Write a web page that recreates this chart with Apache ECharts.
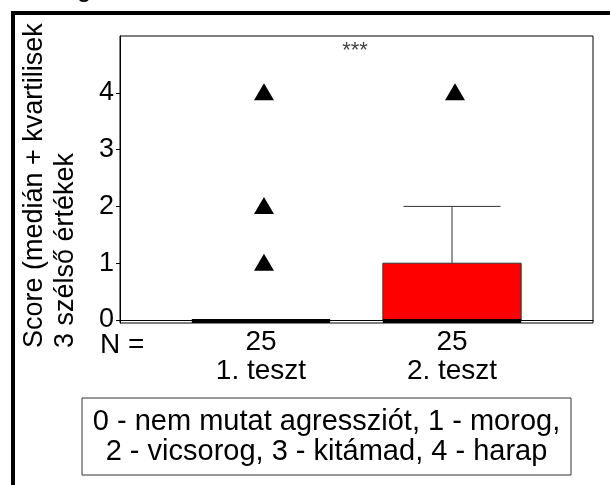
<!DOCTYPE html>
<html><head><meta charset="utf-8">
<script src="https://cdn.jsdelivr.net/npm/echarts@6/dist/echarts.min.js"></script>
<style>html,body{margin:0;padding:0;background:#fff}#c{width:610px;height:485px}</style>
</head><body><div id="c"></div>
<script>
// ---- data ----
const categories = ['1. teszt', '2. teszt'];
const nCounts = [25, 25];
const positions = [1, 2];
const whiskerLow = [0, 0];
const q1 = [0, 0];
const median = [0, 0];
const q3 = [0, 1];
const whiskerHigh = [0, 2];
const outlierGroup = [1, 1, 1, 2];
const outlierValue = [1, 2, 4, 4];
const yTicks = [0, 1, 2, 3, 4];
const yTitle = 'Score (medián + kvartilisek\n3 szélső értékek';
const legendText = '0 - nem mutat agressziót, 1 - morog,\n2 - vicsorog, 3 - kitámad, 4 - harap';
const sigText = '***';

const FONT = '"Liberation Sans", Arial, sans-serif';
const boxData = positions.map((p, i) => [p, whiskerLow[i], q1[i], median[i], q3[i], whiskerHigh[i]]);
const outlierData = outlierGroup.map((g, i) => [g, outlierValue[i]]);

const chart = echarts.init(document.getElementById('c'), null, {renderer: 'canvas'});
chart.setOption({
  animation: false,
  backgroundColor: '#fff',
  textStyle: {fontFamily: FONT},
  grid: {left: 120, top: 36, right: 17, bottom: 162, show: true, borderColor: '#000', borderWidth: 1, backgroundColor: 'transparent'},
  xAxis: {
    type: 'value', min: 0.262, max: 2.738,
    axisLine: {show: true, lineStyle: {color: '#000', width: 1}},
    axisTick: {show: true, length: 3, customValues: positions, lineStyle: {color: '#000', width: 2}},
    axisLabel: {
      customValues: positions, margin: 5, fontSize: 28, lineHeight: 29, color: '#000', fontFamily: FONT,
      formatter: v => { const i = positions.indexOf(Math.round(v)); return nCounts[i] + '\n' + categories[i]; }
    },
    splitLine: {show: false}
  },
  yAxis: {
    type: 'value', min: -0.053, max: 5.0,
    axisLine: {show: true, lineStyle: {color: '#000', width: 1}},
    axisTick: {show: true, length: 4, customValues: yTicks, lineStyle: {color: '#000', width: 1}},
    axisLabel: {customValues: yTicks, margin: 6, fontSize: 27, color: '#000', fontFamily: FONT},
    splitLine: {show: false}
  },
  series: [
    {
      type: 'custom',
      data: boxData,
      encode: {x: 0, y: [1, 2, 3, 4, 5]},
      clip: false,
      z: 2,
      renderItem: function (params, api) {
        const x = api.value(0);
        const lo = api.value(2), med = api.value(3), hi = api.value(4), wh = api.value(5);
        const halfBox = 0.362, halfCap = 0.254;
        const pL = api.coord([x - halfBox, hi]);
        const pR = api.coord([x + halfBox, lo]);
        const c = api.coord([x, med]);
        const children = [];
        if (wh > hi) {
          const t = api.coord([x, wh]);
          const b = api.coord([x, hi]);
          const cl = api.coord([x - halfCap, wh]);
          const cr = api.coord([x + halfCap, wh]);
          children.push({type: 'line', shape: {x1: b[0], y1: b[1], x2: t[0], y2: t[1]}, style: {stroke: '#333', lineWidth: 1}});
          children.push({type: 'line', shape: {x1: cl[0], y1: cl[1], x2: cr[0], y2: cr[1]}, style: {stroke: '#333', lineWidth: 1}});
        }
        if (hi > lo) {
          children.push({type: 'rect', shape: {x: pL[0], y: pL[1], width: pR[0] - pL[0], height: pR[1] - pL[1]}, style: {fill: '#ff0000', stroke: '#333', lineWidth: 1}});
        }
        children.push({type: 'rect', shape: {x: pL[0], y: c[1] - 1, width: pR[0] - pL[0], height: 4}, style: {fill: '#000'}});
        return {type: 'group', children: children};
      }
    },
    {
      type: 'scatter',
      data: outlierData,
      symbol: 'triangle',
      symbolSize: [20, 17],
      symbolOffset: [3, -1],
      itemStyle: {color: '#000', opacity: 1},
      z: 3
    }
  ],
  graphic: [
    {type: 'rect', z: 0, shape: {x: 13, y: 13, width: 640, height: 520}, style: {fill: 'none', stroke: '#000', lineWidth: 4}},
    {type: 'text', x: 84, y: 2, style: {text: 'g', font: '27px ' + FONT, fill: '#000', textAlign: 'center', textVerticalAlign: 'bottom'}},
    {type: 'text', x: 19, y: 348, rotation: Math.PI / 2, style: {text: yTitle, font: '27px ' + FONT, lineHeight: 31, fill: '#000', textAlign: 'left', textVerticalAlign: 'top'}},
    {type: 'text', x: 100, y: 345, style: {text: 'N =', font: '28px ' + FONT, fill: '#000', textAlign: 'left', textVerticalAlign: 'middle'}},
    {type: 'text', x: 355, y: 51, style: {text: sigText, font: '22px ' + FONT, fill: '#444', textAlign: 'center', textVerticalAlign: 'middle'}},
    {type: 'rect', shape: {x: 82, y: 398, width: 489, height: 77}, style: {fill: '#fff', stroke: '#333', lineWidth: 1}},
    {type: 'text', x: 326.5, y: 436.5, style: {text: legendText, font: '29px ' + FONT, lineHeight: 30, fill: '#000', textAlign: 'center', textVerticalAlign: 'middle'}}
  ]
});
</script>
</body></html>
